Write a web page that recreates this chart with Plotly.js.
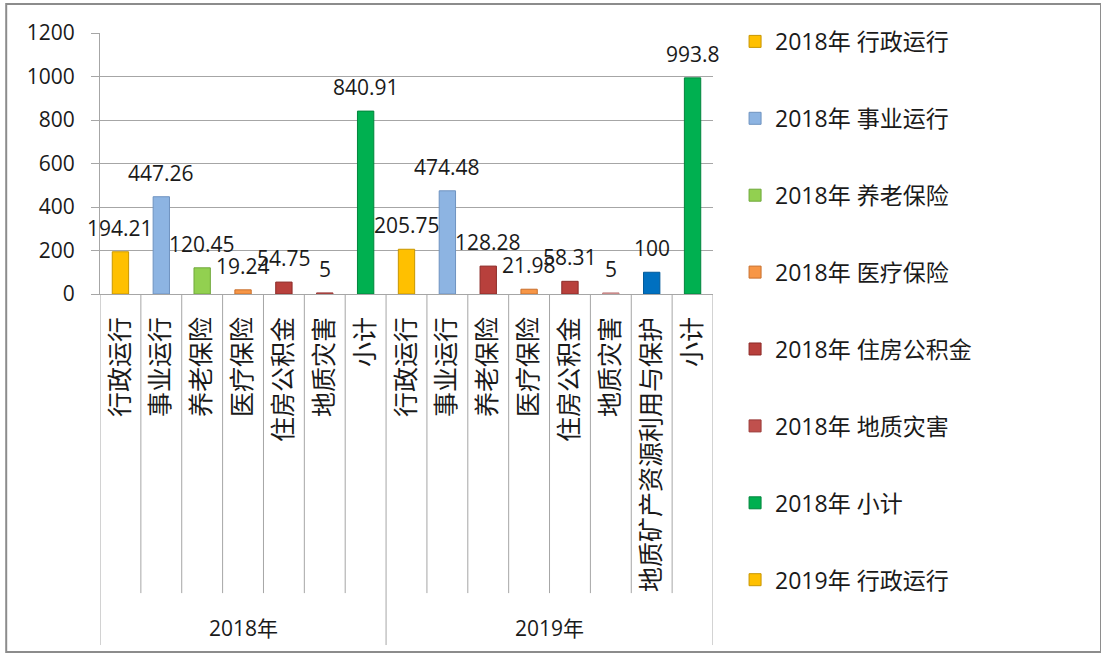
<!DOCTYPE html>
<html>
<head>
<meta charset="utf-8">
<script src="https://cdn.plot.ly/plotly-3.0.1.min.js"></script>
<style>
  html, body { margin: 0; padding: 0; background: #ffffff; }
  #chart { width: 1101px; height: 657px; }
</style>
</head>
<body>
<div id="chart"></div>
<script>
// ---- Data ----
const years = ['2018年','2018年','2018年','2018年','2018年','2018年','2018年',
               '2019年','2019年','2019年','2019年','2019年','2019年','2019年','2019年'];
const categories = ['行政运行','事业运行','养老保险','医疗保险','住房公积金','地质灾害','小计',
                    '行政运行','事业运行','养老保险','医疗保险','住房公积金','地质灾害','地质矿产资源利用与保护','小计'];
const values = [194.21, 447.26, 120.45, 19.24, 54.75, 5, 840.91,
                205.75, 474.48, 128.28, 21.98, 58.31, 5, 100, 993.8];
const groupLabels = ['2018年', '2019年'];
const legendCount = 8; // entries visible in the (truncated) legend

// ---- Styles ----
const barColors = ['#FFC000','#8DB4E2','#92D050','#F79646','#B8403C','#C0504D','#00B050',
                   '#FFC000','#8DB4E2','#B8403C','#F79646','#B8403C','#E6A0A0','#0070C0','#00B050'];
const lineColors = ['#C89600','#6F93C0','#6FA83A','#C8702E','#8C2A27','#9A3A38','#00853C',
                    '#C89600','#6F93C0','#8C2A27','#C8702E','#8C2A27','#C08080','#005A9A','#00853C'];
const FONT = '"Open Sans", "Noto Sans CJK SC", sans-serif';
const TXT = '#1a1a1a';
const GRID = '#A6A6A6';

const keys = categories.map((c, i) => years[i] + c);

const traces = values.map((v, i) => ({
  type: 'bar',
  x: [keys[i]],
  y: [v],
  name: years[i] + ' ' + categories[i],
  legendgroup: 'g' + i,
  showlegend: i < legendCount,
  width: 0.4,
  marker: { color: barColors[i], line: { color: lineColors[i], width: 1 } },
  hoverinfo: 'y+name'
}));

// data labels
const annotations = values.map((v, i) => ({
  x: keys[i], y: v, xref: 'x', yref: 'y',
  text: String(v), showarrow: false,
  yanchor: 'middle', yshift: 24,
  font: { family: FONT, size: 21, color: TXT }
}));

// group labels
groupLabels.forEach(g => {
  const idx = years.map((y, i) => y === g ? i : null).filter(i => i !== null);
  const center = (idx[0] + idx[idx.length - 1]) / 2;
  annotations.push({
    x: center, y: -1.28, xref: 'x', yref: 'paper',
    text: g, showarrow: false, yanchor: 'middle',
    font: { family: FONT, size: 21, color: TXT }
  });
});

// dividers below the axis
const shapes = [];
for (let b = 0; b <= values.length; b++) {
  const isGroupEdge = b === 0 || b === values.length || years[b] !== years[b - 1];
  shapes.push({
    type: 'line', xref: 'x', yref: 'paper',
    x0: b - 0.5, x1: b - 0.5, y0: 0, y1: isGroupEdge ? -1.345 : -1.146,
    line: { color: GRID, width: 1 }
  });
}
// outer chart border
shapes.push({
  type: 'rect', xref: 'paper', yref: 'paper',
  x0: -0.153, x1: 1.633, y0: -1.372, y1: 1.111,
  line: { color: '#8C8C8C', width: 2 }
});

const layout = {
  width: 1101, height: 657,
  margin: { l: 100, r: 388, t: 33, b: 363 },
  paper_bgcolor: '#ffffff', plot_bgcolor: '#ffffff',
  font: { family: FONT, color: TXT, size: 21 },
  barmode: 'overlay',
  showlegend: true,
  xaxis: {
    type: 'category',
    tickmode: 'array', tickvals: keys, ticktext: categories,
    tickangle: -90,
    tickfont: { family: FONT, size: 25, color: TXT },
    ticks: '', ticklabelstandoff: 12,
    showgrid: false, zeroline: false,
    showline: true, linecolor: GRID, linewidth: 1,
    range: [-0.5, values.length - 0.5],
    fixedrange: true
  },
  yaxis: {
    range: [0, 1200], dtick: 200, tick0: 0,
    showgrid: true, gridcolor: GRID, gridwidth: 1,
    zeroline: false,
    showline: true, linecolor: GRID, linewidth: 1,
    ticks: 'outside', ticklen: 8, tickcolor: GRID,
    ticklabelstandoff: 12,
    tickfont: { family: FONT, size: 21, color: TXT },
    fixedrange: true
  },
  legend: {
    x: 1.036, xanchor: 'left', y: 1.05, yanchor: 'top',
    font: { family: FONT, size: 23, color: TXT },
    tracegroupgap: 44, itemwidth: 30, maxheight: 650,
    bgcolor: 'rgba(0,0,0,0)', traceorder: 'grouped'
  },
  annotations: annotations,
  shapes: shapes
};

Plotly.newPlot('chart', traces, layout, { displayModeBar: false, staticPlot: true });
</script>
</body>
</html>
